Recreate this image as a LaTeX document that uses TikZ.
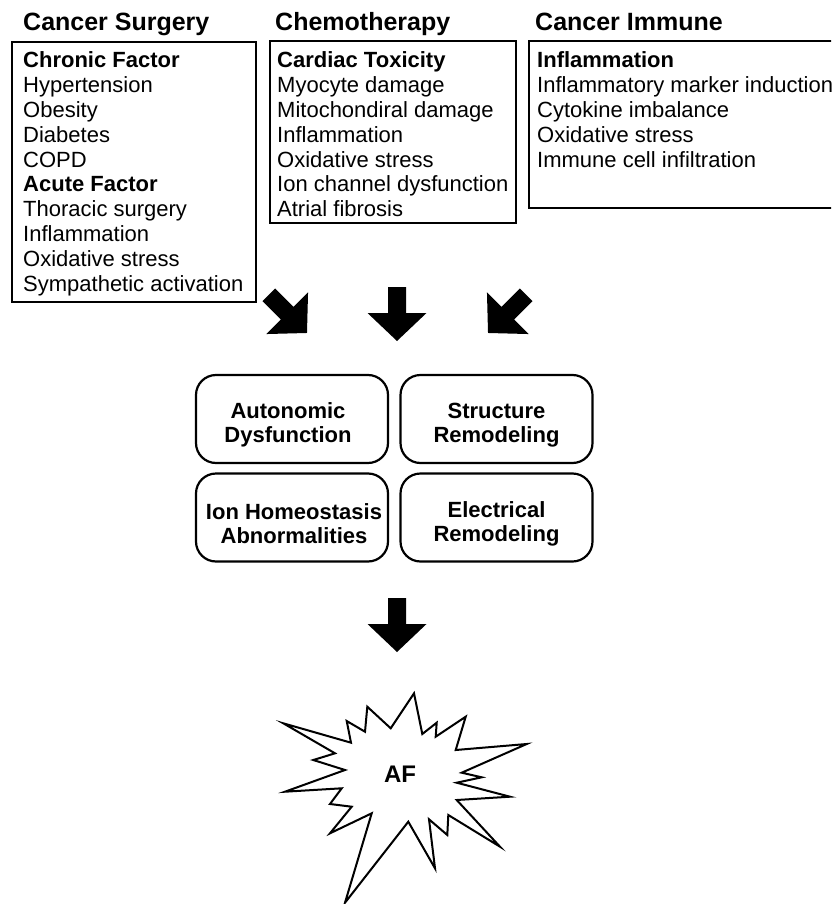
\documentclass[tikz,border=0pt]{standalone}
\usepackage{fontspec}
\setmainfont{Liberation Sans}
\begin{document}
\begin{tikzpicture}[x=1pt,y=-1pt,
  frame/.style={draw=black,line width=2pt,inner sep=0pt,outer sep=0pt,anchor=north west},
  title/.style={anchor=base west,inner sep=0pt,font=\fontsize{25}{28}\selectfont\bfseries},
  listtext/.style={anchor=base west,inner sep=0pt,font=\fontsize{22}{24.8}\selectfont},
  rbox/.style={draw=black,line width=2.2pt,rounded corners=20pt,minimum width=192pt,minimum height=88pt,inner sep=0pt},
  btext/.style={align=center,inner sep=0pt,font=\fontsize{22}{24}\selectfont\bfseries},
  blockarrow/.style={fill=black}
]
\useasboundingbox (0,0) rectangle (831,904);
\clip (0,0) rectangle (831,904);
\fill[white] (0,0) rectangle (831,904);

% titles
\node[title] (t1) at (23,31) {Cancer Surgery};
\node[title] (t2) at (275,31) {Chemotherapy};
\node[title] (t3) at (535,31) {Cancer Immune};

% list boxes
\node[frame,minimum width=244pt,minimum height=260pt] (b1) at (12,42) {};
\node[frame,minimum width=246pt,minimum height=182pt] (b2) at (270,41) {};
\node[frame,minimum width=320pt,minimum height=167pt] (b3) at (529,41) {};

\node[listtext] (l1) at (23,68) {\parbox[t]{240pt}{\textbf{Chronic Factor}\\Hypertension\\Obesity\\Diabetes\\COPD\\\textbf{Acute Factor}\\Thoracic surgery\\Inflammation\\Oxidative stress\\Sympathetic activation}};
\node[listtext] (l2) at (277,68) {\parbox[t]{245pt}{\textbf{Cardiac Toxicity}\\Myocyte damage\\Mitochondiral damage\\Inflammation\\Oxidative stress\\Ion channel dysfunction\\Atrial fibrosis}};
\node[listtext] (l3) at (537,68) {\parbox[t]{320pt}{\textbf{Inflammation}\\Inflammatory marker induction\\Cytokine imbalance\\Oxidative stress\\Immune cell infiltration}};

% block arrows
\def\arrowshape{(-9,0) -- (9,0) -- (9,26) -- (29.5,26) -- (0,54) -- (-29.5,26) -- (-9,26) -- cycle}
\fill[blockarrow,shift={(268.8,294.8)},rotate=45] \arrowshape;
\fill[blockarrow,shift={(397,287)}] \arrowshape;
\fill[blockarrow,shift={(526.2,294.8)},rotate=-45] \arrowshape;

% mechanism boxes
\node[rbox] (ad) at (292,419) {};
\node[rbox] (sr) at (496.5,419) {};
\node[rbox] (ih) at (292,517.5) {};
\node[rbox] (er) at (496.5,517.5) {};
\node[btext] (adt) at ([xshift=-4pt,yshift=-6pt]ad.center) {Autonomic\\Dysfunction};
\node[btext] (srt) at ([yshift=-6pt]sr.center) {Structure\\Remodeling};
\node[btext] (iht) at ([xshift=2pt,yshift=-6pt]ih.center) {Ion Homeostasis\\Abnormalities};
\node[btext] (ert) at ([yshift=-6pt]er.center) {Electrical\\Remodeling};

% bottom arrow
\fill[blockarrow,shift={(397,598)}] \arrowshape;

% starburst
\draw[line width=2pt,fill=white] (414,693.3) -- (422.3,734) -- (436.7,722.7) -- (435.7,736.7)
 -- (465.7,716.7) -- (455.7,750) -- (526.7,744) -- (461.7,772.7) -- (481.7,777.3)
 -- (456.7,782.7) -- (510,796.7) -- (456.7,800) -- (500,846.7) -- (448.3,815)
 -- (447.3,835) -- (429,819.3) -- (435,868.3) -- (408.3,821.7) -- (345,902.7)
 -- (371.7,813.3) -- (330,833.3) -- (351.7,806.7) -- (330,804) -- (341.7,788.3)
 -- (285,791.7) -- (345,770) -- (313.3,760) -- (335,753.3) -- (283.3,723.3)
 -- (351,742.7) -- (346.7,721) -- (365,731.7) -- (367.3,706.7) -- (390.7,728.3) -- cycle;
\node[inner sep=0pt,font=\fontsize{24}{28}\selectfont\bfseries] (af) at (400,774) {AF};
\end{tikzpicture}
\end{document}
